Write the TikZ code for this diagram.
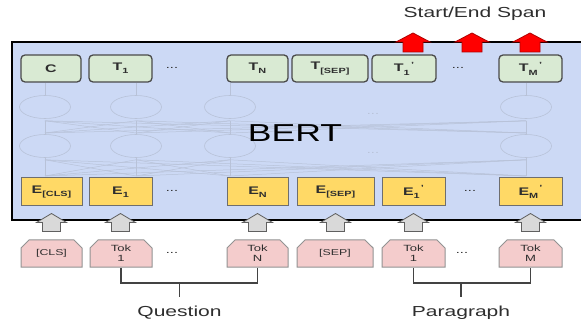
\documentclass[tikz,border=0pt]{standalone}
\usepackage{fontspec}
\setmainfont{Liberation Sans}[FakeStretch=1.45]
\usetikzlibrary{shapes.misc,shapes.geometric}
\definecolor{bertbg}{HTML}{CCD9F5}
\definecolor{tgreen}{HTML}{D9EAD3}
\definecolor{eyellow}{HTML}{FFD966}
\definecolor{tokpink}{HTML}{F4CCCC}
\definecolor{arrgray}{HTML}{D9D9D9}
\definecolor{netgray}{HTML}{B8C2D8}
\definecolor{txtgray}{HTML}{2E2E2E}
\definecolor{edgegray}{HTML}{4A4A4A}
\newcommand\lsub[1]{\raisebox{-0.55ex}{\fontsize{7.5}{8}\selectfont #1}}
\newcommand\lsubp[1]{\raisebox{-0.55ex}{\fontsize{7.5}{8}\selectfont #1}\raisebox{0.8ex}{\fontsize{7.5}{8}\selectfont\,'}}
\tikzset{
  bertframe/.style={draw=black, line width=2.4pt, fill=bertbg},
  tbox/.style={draw=edgegray, line width=1.3pt, fill=tgreen, rounded corners=4pt,
    minimum height=27pt, inner sep=0pt, text=txtgray,
    font=\fontsize{11}{13}\selectfont\bfseries},
  ebox/.style={draw=edgegray!80, line width=1pt, fill=eyellow,
    minimum height=28pt, inner sep=0pt, text=txtgray,
    font=\fontsize{11}{13}\selectfont\bfseries},
  tokbox/.style={chamfered rectangle, chamfered rectangle corners={north west,north east},
    chamfered rectangle xsep=4pt, chamfered rectangle ysep=4pt,
    draw=gray!85, line width=1pt, fill=tokpink, minimum height=27pt, inner sep=0pt,
    align=center, text=txtgray, font=\fontsize{9}{10}\selectfont},
  dots/.style={text=txtgray, font=\fontsize{10}{12}\selectfont},
  hid/.style={ellipse, draw=netgray, line width=0.6pt, minimum width=51pt, minimum height=23pt, inner sep=0pt},
  netline/.style={draw=netgray, line width=0.5pt},
  bracket/.style={draw=txtgray!90, line width=1.2pt},
  biglabel/.style={text=txtgray, font=\fontsize{14.5}{16}\selectfont},
  grayarr/.pic={\draw[fill=arrgray, draw=gray!75!black, line width=0.8pt]
     (0,0) -- (15,9) -- (9,9) -- (9,18) -- (-9,18) -- (-9,9) -- (-15,9) -- cycle;},
  redarr/.pic={\draw[fill=red, draw=red!70!black, line width=0.8pt]
     (0,0) -- (17,9) -- (10,9) -- (10,19) -- (-10,19) -- (-10,9) -- (-17,9) -- cycle;}
}
\begin{document}
\begin{tikzpicture}[x=1pt,y=-1pt]
\clip (0,0) rectangle (581,331);
\fill[white] (0,0) rectangle (581,331);
\draw[bertframe] (12,42) rectangle (610,220);

% faint network
\foreach \i/\x in {1/45,2/136,3/230,4/526}{
  \node[hid] (ha\i) at (\x,107) {};
  \node[hid] (hb\i) at (\x,146) {};
  \coordinate (in\i) at (\x,176);
  \coordinate (mid\i) at (\x,133);
  \coordinate (top\i) at (\x,83);
}
\foreach \i in {1,2,3,4}{
  \foreach \j in {1,2,3,4}{
    \draw[netline] (in\i) -- ([yshift=-2pt]hb\j.south);
    \draw[netline] (mid\i) -- ([yshift=-2pt]ha\j.south);
  }
  \draw[netline] (in\i) -- (hb\i.south);
  \draw[netline] (hb\i.north) -- (mid\i);
  \draw[netline] (ha\i.north) -- (top\i);
}
\node[text=netgray, font=\fontsize{10}{12}\selectfont] (nd1) at (373,114) {...};
\node[text=netgray, font=\fontsize{10}{12}\selectfont] (nd2) at (373,153) {...};

\node[text=black, font=\fontsize{24.5}{28}\selectfont] (bert) at (295,133) {BERT};

% output row
\node[tbox, minimum width=60pt] (tc) at (51,68.5) {C};
\node[tbox, minimum width=63pt] (t1) at (120.5,68.5) {T\lsub{1}};
\node[dots] (td1) at (172,68) {...};
\node[tbox, minimum width=61pt] (tn) at (257.5,68.5) {T\lsub{N}};
\node[tbox, minimum width=76pt] (tsep) at (330,68.5) {T\lsub{[SEP]}};
\node[tbox, minimum width=64pt] (tp1) at (404,68.5) {T\lsubp{1}};
\node[dots] (td2) at (458,68) {...};
\node[tbox, minimum width=63pt] (tpm) at (530.5,68.5) {T\lsubp{M}};

% embedding row
\node[ebox, minimum width=61pt] (ecls) at (51.5,192) {E\lsub{[CLS]}};
\node[ebox, minimum width=63pt] (e1) at (120.5,192) {E\lsub{1}};
\node[dots] (ed1) at (172,191) {...};
\node[ebox, minimum width=61pt] (en) at (257.5,192) {E\lsub{N}};
\node[ebox, minimum width=77pt] (esep) at (335.5,192) {E\lsub{[SEP]}};
\node[ebox, minimum width=63pt] (ep1) at (413.5,192) {E\lsubp{1}};
\node[dots] (ed2) at (470,191) {...};
\node[ebox, minimum width=63pt] (epm) at (530.5,192) {E\lsubp{M}};

% token row
\node[tokbox, minimum width=61pt, font=\fontsize{8.5}{10}\selectfont] (kcls) at (51.5,253.5) {[CLS]};
\node[tokbox, minimum width=62pt] (k1) at (121,253.5) {Tok\\1};
\node[dots] (kd1) at (172,253) {...};
\node[tokbox, minimum width=61pt] (kn) at (257.5,253.5) {Tok\\N};
\node[tokbox, minimum width=76pt, font=\fontsize{8.5}{10}\selectfont] (ksep) at (335,253.5) {[SEP]};
\node[tokbox, minimum width=63pt] (kp1) at (413.5,253.5) {Tok\\1};
\node[dots] (kd2) at (462,253) {...};
\node[tokbox, minimum width=63pt] (kpm) at (530.5,253.5) {Tok\\M};

% gray input arrows
\foreach \n in {ecls,e1,en,esep,ep1,epm}{
  \path (\n.south) ++(0,7) pic {grayarr};
}

% red output arrows
\foreach \x in {413,472,530}{
  \path (\x,33) pic {redarr};
}
\node[text=txtgray, font=\fontsize{14.5}{16}\selectfont] (span) at (475,14) {Start/End Span};

% brackets
\node[biglabel] (q) at (179.5,313) {Question};
\node[biglabel] (p) at (461,313) {Paragraph};
\coordinate (qj) at (179.5,283);
\coordinate (pj) at (461,283);
\draw[bracket] (k1.south) |- (qj) -| (kn.south);
\draw[bracket] (qj) -- ++(0,14);
\draw[bracket] (kp1.south) |- (pj) -| (kpm.south);
\draw[bracket] (pj) -- ++(0,14);
\end{tikzpicture}
\end{document}
